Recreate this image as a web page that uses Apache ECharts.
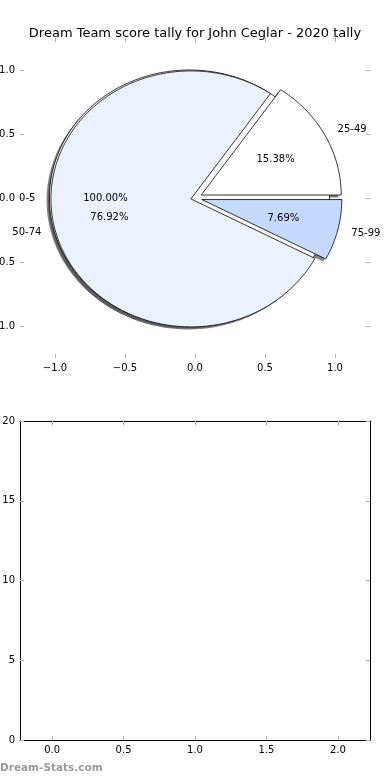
<!DOCTYPE html>
<html>
<head>
<meta charset="utf-8">
<script src="https://cdn.jsdelivr.net/npm/echarts@6/dist/echarts.min.js"></script>
<style>
html,body{margin:0;padding:0;background:#fff;}
#c{width:390px;height:780px;}
</style>
</head>
<body>
<div id="c"></div>
<script>
// ---- data ----
const chartTitle = 'Dream Team score tally for John Ceglar - 2020 tally';
const basePieLabels = ['0-5'];
const basePieCounts = [1];
const pieLabels = ['25-49', '50-74', '75-99'];
const pieCounts = [2, 10, 1];
const topXTicks = [-1, -0.5, 0, 0.5, 1];
const topYTicks = [-1, -0.5, 0, 0.5, 1];
const bottomXTicks = [0, 0.5, 1, 1.5, 2];
const bottomYTicks = [0, 5, 10, 15, 20];
const watermark = 'Dream-Stats.com';

// ---- styles ----
const baseColors = ['#ffffff'];
const baseExplode = [0.04];
const pieColors = ['#ffffff', '#ebf1ff', '#c6daff'];
const pieExplode = [0.05, 0.03, 0.05];
const FONT = 'DejaVu Sans';

function buildWedges(labels, counts, explode, colors) {
  const total = counts.reduce((a, b) => a + b, 0);
  let start = 0;
  return labels.map((name, i) => {
    const frac = counts[i] / total;
    const end = start + frac * 360;
    const mid = (start + end) / 2 * Math.PI / 180;
    const w = {
      name, frac,
      a0: start, a1: end, mid,
      cx: explode[i] * Math.cos(mid),
      cy: explode[i] * Math.sin(mid),
      color: colors[i],
      full: frac >= 0.9999
    };
    start = end;
    return w;
  });
}

const wedges = buildWedges(basePieLabels, basePieCounts, baseExplode, baseColors)
  .concat(buildWedges(pieLabels, pieCounts, pieExplode, pieColors));

function wedgePoints(api, w, dx, dy) {
  const pts = [];
  const cx = w.cx + dx, cy = w.cy + dy;
  if (!w.full) pts.push(api.coord([cx, cy]));
  const n = Math.max(4, Math.ceil(w.a1 - w.a0));
  for (let k = 0; k <= n; k++) {
    const a = (w.a0 + (w.a1 - w.a0) * k / n) * Math.PI / 180;
    pts.push(api.coord([cx + Math.cos(a), cy + Math.sin(a)]));
  }
  return pts;
}

const wedgeData = wedges.map((w, i) => [0, 0, i]);

const fmtTop = v => (v < 0 ? '\u2212' : '') + Math.abs(v).toFixed(1);
const tickStyle = { show: true, inside: true, length: 4, lineStyle: { color: '#b0b0b0', width: 1 } };
const labelStyle = { color: '#000', fontSize: 10, fontFamily: FONT };

function axesFor(gridIndex, xr, yr, xt, yt, fmtX, fmtY, showLine) {
  const line = { show: showLine, onZero: false, lineStyle: { color: '#000', width: 1 } };
  const xs = [
    { type: 'value', gridIndex, position: 'bottom', min: xr[0], max: xr[1],
      axisLine: line, splitLine: { show: false },
      axisTick: Object.assign({ customValues: xt }, tickStyle),
      axisLabel: Object.assign({ customValues: xt, formatter: fmtX, margin: 5 }, labelStyle) },
    { type: 'value', gridIndex, position: 'top', min: xr[0], max: xr[1],
      axisLine: line, splitLine: { show: false },
      axisTick: Object.assign({ customValues: xt }, tickStyle),
      axisLabel: { show: false } }
  ];
  const ys = [
    { type: 'value', gridIndex, position: 'left', min: yr[0], max: yr[1],
      axisLine: line, splitLine: { show: false },
      axisTick: Object.assign({ customValues: yt }, tickStyle),
      axisLabel: Object.assign({ customValues: yt, formatter: fmtY, margin: 5 }, labelStyle) },
    { type: 'value', gridIndex, position: 'right', min: yr[0], max: yr[1],
      axisLine: line, splitLine: { show: false },
      axisTick: Object.assign({ customValues: yt }, tickStyle),
      axisLabel: { show: false } }
  ];
  return { xs, ys };
}

const topAx = axesFor(0, [-1.25, 1.25], [-1.25, 1.25], topXTicks, topYTicks, fmtTop, fmtTop, false);
const botAx = axesFor(1, [-0.225, 2.225], [0, 20], bottomXTicks, bottomYTicks,
  v => v.toFixed(1), v => String(Math.round(v)), true);

const chart = echarts.init(document.getElementById('c'), null, { renderer: 'canvas' });
chart.setOption({
  animation: false,
  backgroundColor: '#fff',
  title: {
    text: chartTitle, left: 'center', top: 22,
    textStyle: { fontFamily: FONT, fontSize: 13, fontWeight: 'normal', color: '#000' }
  },
  grid: [
    { left: 20, width: 350, top: 38, height: 320, containLabel: false, outerBoundsMode: 'none' },
    { left: 20, width: 350, top: 421, height: 319, containLabel: false, outerBoundsMode: 'none' }
  ],
  xAxis: topAx.xs.concat(botAx.xs),
  yAxis: topAx.ys.concat(botAx.ys),
  graphic: [{
    type: 'text', left: 0, top: 763,
    style: { text: watermark, fill: '#9a9a9a', font: 'bold 10.5px "DejaVu Sans"' }
  }],
  series: [
    {
      type: 'custom', name: 'shadow', xAxisIndex: 0, yAxisIndex: 0, z: 1,
      data: wedgeData, silent: true,
      renderItem: (params, api) => {
        const w = wedges[params.dataIndex];
        return { type: 'polygon', shape: { points: wedgePoints(api, w, -0.02, -0.02) },
          style: { fill: 'rgba(77,77,77,0.7)', stroke: null } };
      }
    },
    {
      type: 'custom', name: 'wedges', xAxisIndex: 0, yAxisIndex: 0, z: 2,
      data: wedgeData, silent: true,
      renderItem: (params, api) => {
        const w = wedges[params.dataIndex];
        return { type: 'polygon', shape: { points: wedgePoints(api, w, 0, 0) },
          style: { fill: w.color, stroke: '#000', lineWidth: 0.8 } };
      }
    },
    {
      type: 'custom', name: 'labels', xAxisIndex: 0, yAxisIndex: 0, z: 3,
      data: wedgeData, silent: true,
      renderItem: (params, api) => {
        const w = wedges[params.dataIndex];
        const c = Math.cos(w.mid), s = Math.sin(w.mid);
        const lp = api.coord([w.cx + 1.1 * c, w.cy + 1.1 * s]);
        const pp = api.coord([w.cx + 0.6 * c, w.cy + 0.6 * s]);
        return { type: 'group', children: [
          { type: 'text', x: lp[0], y: lp[1],
            style: { text: w.name, fill: '#000', font: '10px "DejaVu Sans"',
              align: c > 0 ? 'left' : 'right', verticalAlign: 'middle' } },
          { type: 'text', x: pp[0], y: pp[1],
            style: { text: (w.frac * 100).toFixed(2) + '%', fill: '#000', font: '10px "DejaVu Sans"',
              align: 'center', verticalAlign: 'middle' } }
        ] };
      }
    }
  ]
});
</script>
</body>
</html>
